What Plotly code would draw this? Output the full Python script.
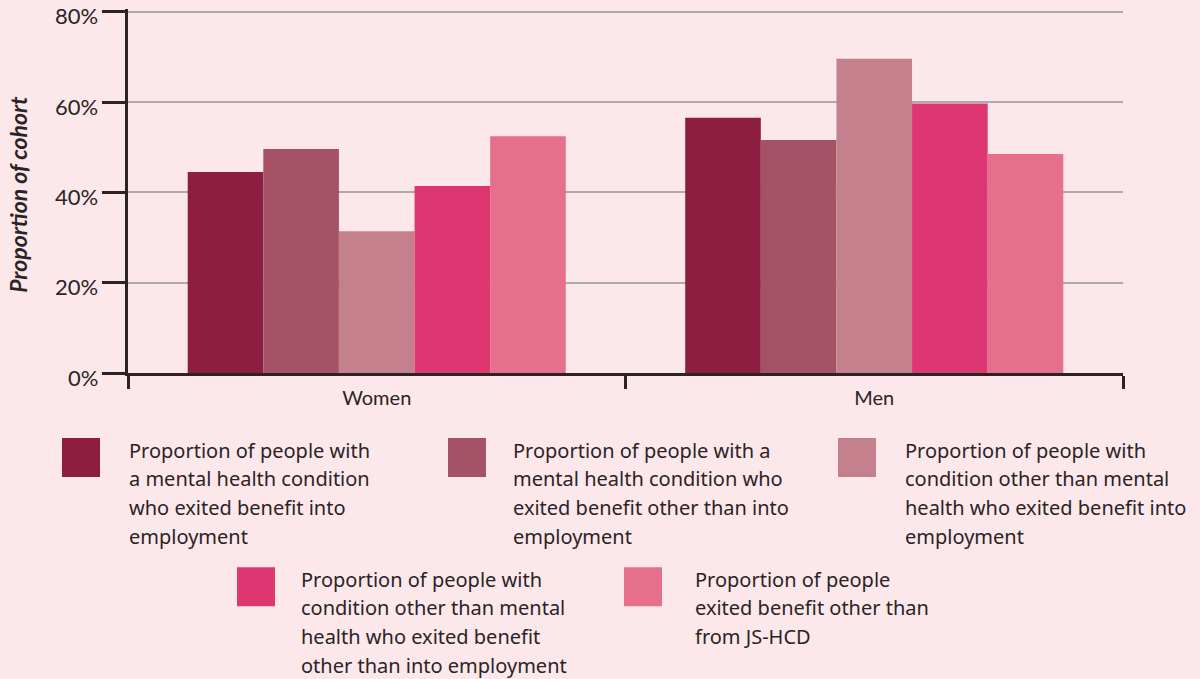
import plotly.graph_objects as go

categories = ["Women", "Men"]
series_names = [
    "Proportion of people with a mental health condition who exited benefit into employment",
    "Proportion of people with a mental health condition who exited benefit other than into employment",
    "Proportion of people with condition other than mental health who exited benefit into employment",
    "Proportion of people with condition other than mental health who exited benefit other than into employment",
    "Proportion of people exited benefit other than from JS-HCD",
]
mh_into_employment = [44.5, 56.5]
mh_other_than_employment = [49.6, 51.6]
other_into_employment = [31.4, 69.6]
other_other_than_employment = [41.4, 59.7]
exited_other_than_jshcd = [52.4, 48.5]
tick_vals = [0, 20, 40, 60, 80]
tick_text = ["0%", "20%", "40%", "60%", "80%"]

colors = ["#8e1e41", "#a65266", "#c5808d", "#dd3671", "#e76f8e"]
legend_lines = [
    ["Proportion of people with", "a mental health condition", "who exited benefit into", "employment"],
    ["Proportion of people with a", "mental health condition who", "exited benefit other than into", "employment"],
    ["Proportion of people with", "condition other than mental", "health who exited benefit into", "employment"],
    ["Proportion of people with", "condition other than mental", "health who exited benefit", "other than into employment"],
    ["Proportion of people", "exited benefit other than", "from JS-HCD"],
]

values = [mh_into_employment, mh_other_than_employment, other_into_employment,
          other_other_than_employment, exited_other_than_jshcd]

BG = "#fce8ea"
INK = "#2b2326"
W, H = 1200, 679
Y_MAX = 80.6
L, R, B = 128, 77, 306
PH80 = 361.0
PH = PH80 * Y_MAX / 80
T = H - B - PH
PW = W - L - R

def px(x):
    return (x - L) / PW

def py(y):
    return (H - B - y) / PH

fig = go.Figure()
for name, vals, c in zip(series_names, values, colors):
    fig.add_trace(go.Bar(x=categories, y=vals, name=name, marker=dict(color=c, line=dict(width=0)),
                         showlegend=False, hovertemplate="%{x}: %{y:.1f}%<extra></extra>"))

# custom legend
legend_pos = [(62, 438, 127), (448, 438, 511), (838, 438, 903), (237, 567, 299), (624, 567, 693)]
shapes = []
annotations = []
for (sx, sy, tx), c, lines in zip(legend_pos, colors, legend_lines):
    shapes.append(dict(type="rect", xref="paper", yref="paper",
                       x0=px(sx), x1=px(sx + 38), y0=py(sy), y1=py(sy + 39),
                       fillcolor=c, line=dict(width=0)))
    for i, line in enumerate(lines):
        annotations.append(dict(xref="paper", yref="paper", x=px(tx), y=py(sy + 12 + i * 28.7),
                                text=line, showarrow=False, xanchor="left", yanchor="middle",
                                font=dict(family="Noto Sans", size=20, color=INK)))

# y tick labels (drawn as text on the y scale, nudged slightly below the tick like the original)
for v, t in zip(tick_vals, tick_text):
    annotations.append(dict(xref="paper", yref="y", x=px(100), y=v, yshift=-4, text=t,
                            showarrow=False, xanchor="right", yanchor="middle",
                            font=dict(family="Lato", size=22, color=INK)))

# y axis title
annotations.append(dict(xref="paper", yref="paper", x=px(18), y=py(195),
                        text="<b><i>Proportion of cohort</i></b>", textangle=-90,
                        showarrow=False, xanchor="center", yanchor="middle",
                        font=dict(family="Lato", size=23, color=INK)))

fig.update_layout(
    width=W, height=H,
    margin=dict(l=L, r=R, t=T, b=B, autoexpand=False),
    paper_bgcolor=BG, plot_bgcolor=BG,
    barmode="group", bargap=0.24, bargroupgap=0,
    shapes=shapes, annotations=annotations,
    font=dict(family="Lato", color=INK),
    xaxis=dict(showline=True, linecolor=INK, linewidth=2.5, ticks="outside", tickson="boundaries",
               ticklen=13, tickwidth=2.5, tickcolor=INK, showgrid=False, ticklabelstandoff=5,
               tickfont=dict(family="Lato", size=20, color=INK)),
    yaxis=dict(range=[0, Y_MAX], tickvals=tick_vals, ticktext=tick_text, showticklabels=False,
               showline=True, linecolor=INK, linewidth=2.5, ticks="outside", ticklen=23,
               tickwidth=2.5, tickcolor=INK, showgrid=True, gridcolor="#ababab", gridwidth=1.5,
               zeroline=False),
)

fig.write_html("out.html", config={"displayModeBar": False},
               post_script="document.body.style.margin='0';document.body.style.overflow='hidden';")
